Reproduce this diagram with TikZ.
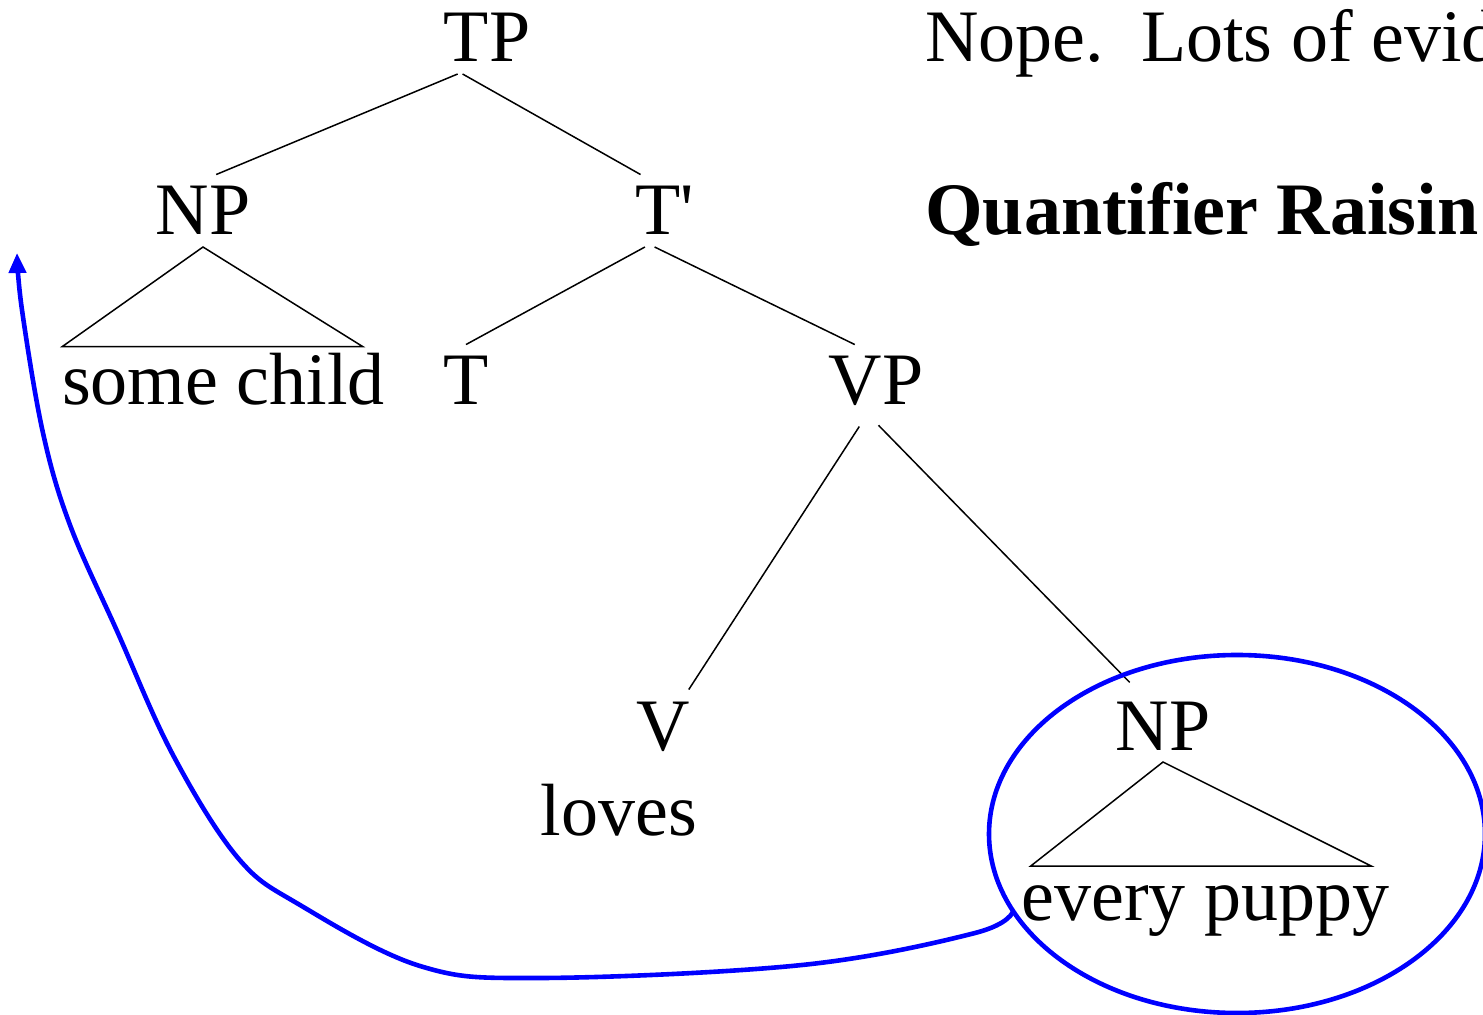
\documentclass[tikz,border=0pt]{standalone}
\usepackage{fontspec}
\setmainfont{Liberation Serif}[Ligatures=TeXOff]
\usetikzlibrary{shapes.geometric, arrows.meta, calc}
\definecolor{QRBlue}{HTML}{0000FF}
\tikzset{
    % Tree category label
    cat/.style={
        inner sep=6pt,
        outer sep=0pt,
        anchor=base,
        font=\fontsize{37}{44}\selectfont
    },
    % Words under the tree
    leaf/.style={
        inner xsep=0pt,
        inner ysep=3.5pt,
        outer sep=0pt,
        anchor=base,
        font=\fontsize{37}{44}\selectfont
    },
    % Slide text on the right
    remark/.style={
        inner sep=0pt,
        anchor=base west,
        font=\fontsize{37}{44}\selectfont
    },
    % Bold heading on the right
    remarkbold/.style={
        remark,
        font=\fontsize{37}{44}\selectfont\bfseries
    },
    % Tree branch
    branch/.style={
        line width=0.75pt,
        color=black
    },
    % Ring round the raised phrase
    qrring/.style={
        ellipse,
        draw=QRBlue,
        line width=2.3pt,
        inner sep=0pt,
        outer sep=0pt,
        minimum width=248pt,
        minimum height=179pt
    },
    % Movement arrow
    moved/.style={
        -{Triangle[width=8.5pt,length=10pt]},
        line width=2.3pt,
        color=QRBlue
    }
}

\begin{document}
\begin{tikzpicture}[x=0.5pt, y=-0.5pt]
        \useasboundingbox (0,0) rectangle (1483,1015);
        \clip (0,0) rectangle (1483,1015);

        % Tree
        \node (tp) [cat] at (487,62) {TP};
        \node (np1) [cat] at (203,235) {NP};
        \node (tbar) [cat] at (665,235) {T'};
        \node (t) [cat] at (466,405) {T};
        \node (vp) [cat] at (876,405) {VP};
        \node (v) [cat] at (663,750) {V};
        \node (np2) [cat] at (1163,750) {NP};

        \node (sc) [leaf] at (223.5,405) {some child};
        \node (lv) [leaf] at (619,835) {loves};
        \node (ep) [leaf, inner ysep=9.5pt] at (1205.5,920) {every puppy};

        \draw [branch] (tp.231) -- (np1.70);
        \draw [branch] (tp.236) -- (tbar.124);
        \draw [branch] (tbar.241) -- (t.north);
        \draw [branch] (tbar.254) -- (vp.120);
        \draw [branch, shorten <=5pt] (vp.253) -- (v.55);
        \draw [branch, shorten <=5pt, shorten >=5pt] (vp.263) -- (np2.126);

        \draw [branch] (np1.south) -- (sc.north west) -- ($(sc.north east)+(-22,0)$) -- cycle;
        \draw [branch] (np2.south) -- ($(ep.north west)+(9,0)$) -- ($(ep.north east)+(-18,0)$) -- cycle;

        % Raised phrase
        \node (qr) [qrring] at (1237,834) {};
        \coordinate (land) at (17,253);
        \draw [moved] plot [smooth, tension=0.6] coordinates {(qr.199) (975,933) (802,965) (540,978) (420,966) (300,905) (238,858) (173,755) (117,631) (70,525) (43,433) (22,310) (land)};

        % Text on the right
        \node (nope) [remark] at (925,62) {Nope.\ \ Lots of evid};
        \node (qrname) [remarkbold] at (925,235) {Quantifier Raisin};
    \end{tikzpicture}
\end{document}
